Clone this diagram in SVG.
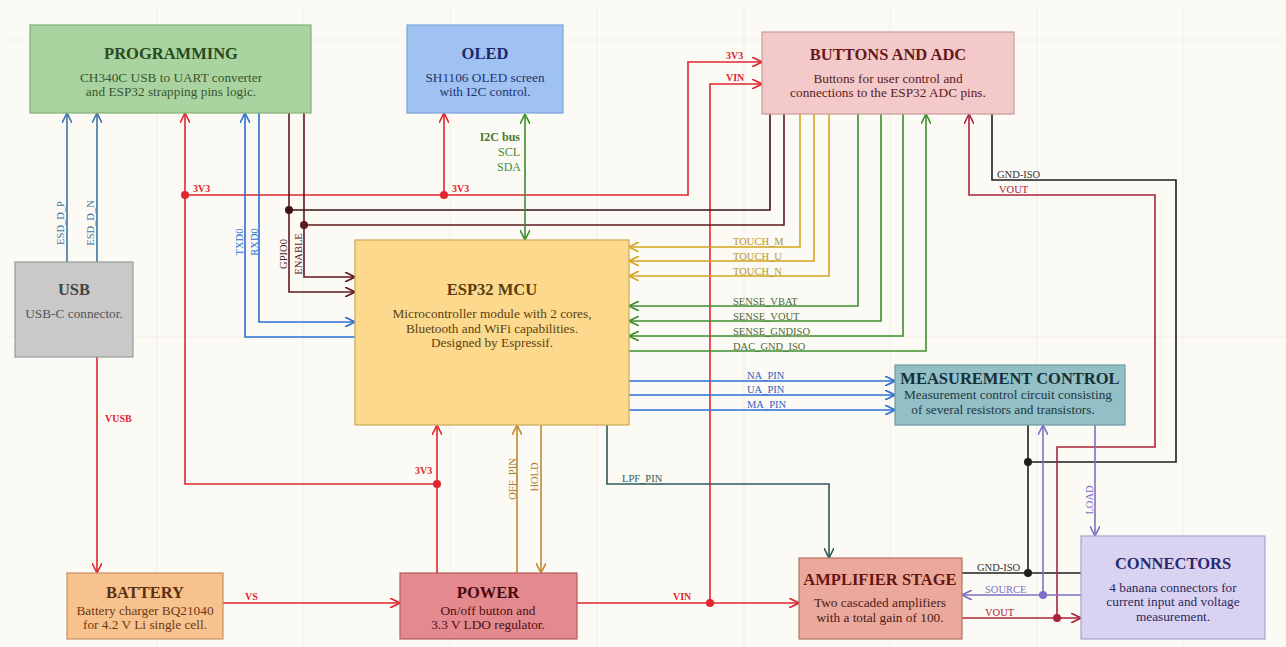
<svg xmlns="http://www.w3.org/2000/svg" width="1286" height="647" viewBox="0 0 1286 647">
  <style>
    text { font-family: "Liberation Serif", "Times New Roman", serif; }
    .box { stroke-width: 1.2; }
    .title { font-size: 16.5px; font-weight: bold; text-anchor: middle; }
    .sub { font-size: 13.3px; text-anchor: middle; }
    .net { font-size: 10.5px; }
    .pwr { font-size: 10px; font-weight: bold; fill: #e0262e; }
    .w { fill: none; stroke-width: 1.6; }
    .grid { stroke: #f1eee5; stroke-width: 1; }
    .dot { stroke: none; }
  </style>
  <defs>
    <marker id="a-red" viewBox="0 0 10 10" refX="10" refY="5" markerWidth="10" markerHeight="10" markerUnits="userSpaceOnUse" orient="auto-start-reverse"><path d="M0,0 L10,5 L0,10" fill="none" stroke="#e0262e" stroke-width="1.6"/></marker>
    <marker id="a-dred" viewBox="0 0 10 10" refX="10" refY="5" markerWidth="10" markerHeight="10" markerUnits="userSpaceOnUse" orient="auto-start-reverse"><path d="M0,0 L10,5 L0,10" fill="none" stroke="#a8243a" stroke-width="1.6"/></marker>
    <marker id="a-blue" viewBox="0 0 10 10" refX="10" refY="5" markerWidth="10" markerHeight="10" markerUnits="userSpaceOnUse" orient="auto-start-reverse"><path d="M0,0 L10,5 L0,10" fill="none" stroke="#2b6fd6" stroke-width="1.6"/></marker>
    <marker id="a-steel" viewBox="0 0 10 10" refX="10" refY="5" markerWidth="10" markerHeight="10" markerUnits="userSpaceOnUse" orient="auto-start-reverse"><path d="M0,0 L10,5 L0,10" fill="none" stroke="#3e74a8" stroke-width="1.6"/></marker>
    <marker id="a-maroon" viewBox="0 0 10 10" refX="10" refY="5" markerWidth="10" markerHeight="10" markerUnits="userSpaceOnUse" orient="auto-start-reverse"><path d="M0,0 L10,5 L0,10" fill="none" stroke="#5e1a1e" stroke-width="1.6"/></marker>
    <marker id="a-gold" viewBox="0 0 10 10" refX="10" refY="5" markerWidth="10" markerHeight="10" markerUnits="userSpaceOnUse" orient="auto-start-reverse"><path d="M0,0 L10,5 L0,10" fill="none" stroke="#d4a520" stroke-width="1.6"/></marker>
    <marker id="a-green" viewBox="0 0 10 10" refX="10" refY="5" markerWidth="10" markerHeight="10" markerUnits="userSpaceOnUse" orient="auto-start-reverse"><path d="M0,0 L10,5 L0,10" fill="none" stroke="#3e8e2e" stroke-width="1.6"/></marker>
    <marker id="a-purple" viewBox="0 0 10 10" refX="10" refY="5" markerWidth="10" markerHeight="10" markerUnits="userSpaceOnUse" orient="auto-start-reverse"><path d="M0,0 L10,5 L0,10" fill="none" stroke="#7c70c4" stroke-width="1.6"/></marker>
    <marker id="a-teal" viewBox="0 0 10 10" refX="10" refY="5" markerWidth="10" markerHeight="10" markerUnits="userSpaceOnUse" orient="auto-start-reverse"><path d="M0,0 L10,5 L0,10" fill="none" stroke="#2d5a58" stroke-width="1.6"/></marker>
    <marker id="a-orange" viewBox="0 0 10 10" refX="10" refY="5" markerWidth="10" markerHeight="10" markerUnits="userSpaceOnUse" orient="auto-start-reverse"><path d="M0,0 L10,5 L0,10" fill="none" stroke="#c08a30" stroke-width="1.6"/></marker>
  </defs>

  <!-- sheet background and faint grid -->
  <rect x="0" y="0" width="1286" height="647" fill="#fcfaf4"/>
  <g id="grid">
    <line class="grid" x1="157" y1="8" x2="157" y2="647"/>
    <line class="grid" x1="303" y1="8" x2="303" y2="647"/>
    <line class="grid" x1="450" y1="8" x2="450" y2="647"/>
    <line class="grid" x1="597" y1="8" x2="597" y2="647"/>
    <line class="grid" x1="744" y1="8" x2="744" y2="647"/>
    <line class="grid" x1="890" y1="8" x2="890" y2="647"/>
    <line class="grid" x1="1037" y1="8" x2="1037" y2="647"/>
    <line class="grid" x1="1183" y1="8" x2="1183" y2="647"/>
    <line class="grid" x1="8" y1="40" x2="1286" y2="40"/>
    <line class="grid" x1="8" y1="337" x2="1286" y2="337"/>
  </g>

  <!-- connectors -->
  <g id="connectors">
    <!-- 3V3 rail -->
    <g stroke="#e0262e">
      <path class="w" d="M437,573 V425" marker-end="url(#a-red)"/>
      <path class="w" d="M437,484 H185 V113" marker-end="url(#a-red)"/>
      <path class="w" d="M185,195 H688 V62 H762" marker-end="url(#a-red)"/>
      <path class="w" d="M444,195 V113" marker-end="url(#a-red)"/>
      <!-- VIN -->
      <path class="w" d="M577,603 H799" marker-end="url(#a-red)"/>
      <path class="w" d="M710,603 V84 H762" marker-end="url(#a-red)"/>
      <!-- VS / VUSB -->
      <path class="w" d="M223,603 H400" marker-end="url(#a-red)"/>
      <path class="w" d="M97,357 V573" marker-end="url(#a-red)"/>
    </g>
    <g fill="#e0262e">
      <circle class="dot" cx="437" cy="484" r="4"/>
      <circle class="dot" cx="185" cy="195" r="4"/>
      <circle class="dot" cx="444" cy="195" r="4"/>
      <circle class="dot" cx="710" cy="603" r="4"/>
    </g>

    <!-- USB data -->
    <g stroke="#3e74a8">
      <path class="w" d="M67,262 V113" marker-end="url(#a-steel)"/>
      <path class="w" d="M97,262 V113" marker-end="url(#a-steel)"/>
    </g>

    <!-- UART -->
    <g stroke="#2b6fd6">
      <path class="w" d="M355,337 H245 V113" marker-end="url(#a-blue)"/>
      <path class="w" d="M259,113 V322 H355" marker-end="url(#a-blue)"/>
      <!-- measurement selection -->
      <path class="w" d="M629,381 H895" marker-end="url(#a-blue)"/>
      <path class="w" d="M629,395 H895" marker-end="url(#a-blue)"/>
      <path class="w" d="M629,410 H895" marker-end="url(#a-blue)"/>
    </g>

    <!-- strapping pins -->
    <g stroke="#5e1a1e">
      <path class="w" d="M289,113 V292 H355" marker-end="url(#a-maroon)"/>
      <path class="w" d="M304,113 V277 H355" marker-end="url(#a-maroon)"/>
      <path class="w" d="M289,210 H770 V114" stroke="#3f1214"/>
      <path class="w" d="M304,225 H784 V114"/>
    </g>
    <circle class="dot" cx="289" cy="210" r="4" fill="#3f1214"/>
    <circle class="dot" cx="304" cy="225" r="4" fill="#5e1a1e"/>

    <!-- I2C -->
    <path class="w" d="M525,114 V240" stroke="#3e8e2e" marker-start="url(#a-green)" marker-end="url(#a-green)"/>

    <!-- touch buttons -->
    <g stroke="#d4a520">
      <path class="w" d="M800,114 V247 H629" marker-end="url(#a-gold)"/>
      <path class="w" d="M814,114 V261 H629" marker-end="url(#a-gold)"/>
      <path class="w" d="M829,114 V276 H629" marker-end="url(#a-gold)"/>
    </g>

    <!-- ADC senses -->
    <g stroke="#3e8e2e">
      <path class="w" d="M858,114 V306 H629" marker-end="url(#a-green)"/>
      <path class="w" d="M881,114 V321 H629" marker-end="url(#a-green)"/>
      <path class="w" d="M903,114 V336 H629" marker-end="url(#a-green)"/>
      <path class="w" d="M629,351 H926 V114" marker-end="url(#a-green)"/>
    </g>

    <!-- isolated ground -->
    <g stroke="#1e1e1e">
      <path class="w" d="M992,114 V180 H1176 V462 H1028"/>
      <path class="w" d="M1028,425 V573"/>
      <path class="w" d="M962,573 H1081"/>
    </g>
    <circle class="dot" cx="1028" cy="462" r="4" fill="#1e1e1e"/>
    <circle class="dot" cx="1028" cy="573" r="4" fill="#1e1e1e"/>

    <!-- amplifier output -->
    <g stroke="#a8243a">
      <path class="w" d="M962,618 H1081" marker-end="url(#a-dred)"/>
      <path class="w" d="M1057,618 V447 H1155 V195 H969 V114" marker-end="url(#a-dred)"/>
    </g>
    <circle class="dot" cx="1057" cy="618" r="4" fill="#a8243a"/>

    <!-- source / load -->
    <g stroke="#7c70c4">
      <path class="w" d="M1081,595 H962" marker-end="url(#a-purple)"/>
      <path class="w" d="M1043,595 V425" marker-end="url(#a-purple)"/>
      <path class="w" d="M1095,425 V536" marker-end="url(#a-purple)"/>
    </g>
    <circle class="dot" cx="1043" cy="595" r="4" fill="#7c70c4"/>

    <!-- low-pass filter pin -->
    <path class="w" d="M607,425 V484 H829 V558" stroke="#2d5a58" marker-end="url(#a-teal)"/>

    <!-- power control -->
    <g stroke="#c08a30">
      <path class="w" d="M517,573 V425" marker-end="url(#a-orange)"/>
      <path class="w" d="M541,425 V573" marker-end="url(#a-orange)"/>
    </g>

    <!-- net labels -->
    <text class="pwr" x="193" y="192">3V3</text>
    <text class="pwr" x="452" y="192">3V3</text>
    <text class="pwr" x="726" y="59">3V3</text>
    <text class="pwr" x="726" y="81">VIN</text>
    <text class="pwr" x="415" y="474">3V3</text>
    <text class="pwr" x="673" y="600">VIN</text>
    <text class="pwr" x="245" y="600">VS</text>
    <text class="pwr" x="105" y="422">VUSB</text>

    <g class="net" fill="#3e74a8" text-anchor="middle">
      <text transform="translate(64,223) rotate(-90)">ESD_D_P</text>
      <text transform="translate(94,223) rotate(-90)">ESD_D_N</text>
    </g>
    <g class="net" fill="#2b6fd6" text-anchor="middle">
      <text transform="translate(243,242) rotate(-90)">TXD0</text>
      <text transform="translate(257.5,242) rotate(-90)">RXD0</text>
    </g>
    <g class="net" fill="#5a2024" text-anchor="middle">
      <text transform="translate(287,254) rotate(-90)">GPIO0</text>
      <text transform="translate(302,254) rotate(-90)">ENABLE</text>
    </g>

    <text x="520" y="141" font-size="12" font-weight="bold" fill="#4a7a2a" text-anchor="end">I2C bus</text>
    <text x="520" y="156" font-size="12" fill="#4a8a34" text-anchor="end">SCL</text>
    <text x="521" y="171" font-size="12" fill="#4a8a34" text-anchor="end">SDA</text>

    <g class="net" fill="#b8962a">
      <text x="733" y="245">TOUCH_M</text>
      <text x="733" y="259.5">TOUCH_U</text>
      <text x="733" y="274.5">TOUCH_N</text>
    </g>
    <g class="net" fill="#4e6a3e">
      <text x="733" y="304.5">SENSE_VBAT</text>
      <text x="733" y="319.5">SENSE_VOUT</text>
      <text x="733" y="334.5">SENSE_GNDISO</text>
      <text x="733" y="349.5">DAC_GND_ISO</text>
    </g>
    <g class="net" fill="#3060c0">
      <text x="747" y="379">NA_PIN</text>
      <text x="747" y="393">UA_PIN</text>
      <text x="747" y="408">MA_PIN</text>
    </g>

    <text class="net" x="997" y="178" fill="#333333">GND-ISO</text>
    <text class="net" x="999" y="193" fill="#a8243a">VOUT</text>
    <text class="net" x="977" y="571" fill="#333333">GND-ISO</text>
    <text class="net" x="985" y="593" fill="#7c70c4">SOURCE</text>
    <text class="net" x="985" y="616" fill="#a8243a">VOUT</text>
    <text class="net" fill="#7c70c4" text-anchor="middle" transform="translate(1093,500) rotate(-90)">LOAD</text>
    <text class="net" x="622" y="482" fill="#2d5a58">LPF_PIN</text>
    <g class="net" fill="#b07a30" text-anchor="middle">
      <text transform="translate(516,479) rotate(-90)">OFF_PIN</text>
      <text transform="translate(538,477) rotate(-90)">HOLD</text>
    </g>
  </g>

  <!-- blocks -->
  <g id="programming">
    <rect class="box" x="30" y="25" width="281" height="88" fill="#a9d4a0" stroke="#84b079"/>
    <text class="title" x="171" y="59" fill="#2b4a1e">PROGRAMMING</text>
    <text class="sub" x="171" y="82" fill="#3b5530">CH340C USB to UART converter</text>
    <text class="sub" x="171" y="96" fill="#3b5530">and ESP32 strapping pins logic.</text>
  </g>

  <g id="oled">
    <rect class="box" x="407" y="25" width="156" height="88" fill="#9fc2f2" stroke="#7aa2d8"/>
    <text class="title" x="485" y="59" fill="#1a286c">OLED</text>
    <text class="sub" x="485" y="82" fill="#24346e">SH1106 OLED screen</text>
    <text class="sub" x="485" y="96" fill="#24346e">with I2C control.</text>
  </g>

  <g id="buttons-adc">
    <rect class="box" x="762" y="32" width="252" height="82" fill="#f3c9ca" stroke="#c99a9c"/>
    <text class="title" x="888" y="60" fill="#681818">BUTTONS AND ADC</text>
    <text class="sub" x="888" y="83" fill="#5a2020">Buttons for user control and</text>
    <text class="sub" x="888" y="97" fill="#5a2020">connections to the ESP32 ADC pins.</text>
  </g>

  <g id="usb">
    <rect class="box" x="15" y="262" width="118" height="95" fill="#c9c9c9" stroke="#9a9a9a"/>
    <text class="title" x="74" y="295" fill="#444444">USB</text>
    <text class="sub" x="74" y="318" fill="#555555">USB-C connector.</text>
  </g>

  <g id="esp32">
    <rect class="box" x="355" y="240" width="274" height="185" fill="#fcd98c" stroke="#cba956"/>
    <text class="title" x="492" y="295" fill="#5a3c10">ESP32 MCU</text>
    <text class="sub" x="492" y="318" fill="#5c4212">Microcontroller module with 2 cores,</text>
    <text class="sub" x="492" y="333" fill="#5c4212">Bluetooth and WiFi capabilities.</text>
    <text class="sub" x="492" y="347" fill="#5c4212">Designed by Espressif.</text>
  </g>

  <g id="measurement-control">
    <rect class="box" x="895" y="365" width="230" height="60" fill="#93bfc6" stroke="#6a9aa4"/>
    <text class="title" x="1010" y="384" font-size="16px" fill="#16303a">MEASUREMENT CONTROL</text>
    <text class="sub" x="1008" y="399" font-size="12.5" fill="#1f3840">Measurement control circuit consisting</text>
    <text class="sub" x="1003" y="414" font-size="12.5" fill="#1f3840">of several resistors and transistors.</text>
  </g>

  <g id="battery">
    <rect class="box" x="67" y="573" width="156" height="66" fill="#f8c28e" stroke="#c99062"/>
    <text class="title" x="145" y="598" fill="#5a3010">BATTERY</text>
    <text class="sub" x="145" y="615" fill="#6a3a15">Battery charger BQ21040</text>
    <text class="sub" x="145" y="629" fill="#6a3a15">for 4.2 V Li single cell.</text>
  </g>

  <g id="power">
    <rect class="box" x="400" y="573" width="177" height="66" fill="#e4898d" stroke="#b65a5e"/>
    <text class="title" x="488" y="598" fill="#480a0a">POWER</text>
    <text class="sub" x="488" y="615" fill="#4a1010">On/off button and</text>
    <text class="sub" x="488" y="629" fill="#4a1010">3.3 V LDO regulator.</text>
  </g>

  <g id="amplifier">
    <rect class="box" x="799" y="558" width="163" height="81" fill="#eaa99b" stroke="#b47262"/>
    <text class="title" x="880" y="585" font-size="16px" fill="#681212">AMPLIFIER STAGE</text>
    <text class="sub" x="880" y="607" fill="#4a1a1a">Two cascaded amplifiers</text>
    <text class="sub" x="880" y="622" fill="#4a1a1a">with a total gain of 100.</text>
  </g>

  <g id="connectors-block">
    <rect class="box" x="1081" y="536" width="184" height="103" fill="#d9d2f0" stroke="#a9a0d2"/>
    <text class="title" x="1173" y="569" fill="#2a2a70">CONNECTORS</text>
    <text class="sub" x="1173" y="592" fill="#2a2a62">4 banana connectors for</text>
    <text class="sub" x="1173" y="606" fill="#2a2a62">current input and voltage</text>
    <text class="sub" x="1173" y="621" fill="#2a2a62">measurement.</text>
  </g>
</svg>
